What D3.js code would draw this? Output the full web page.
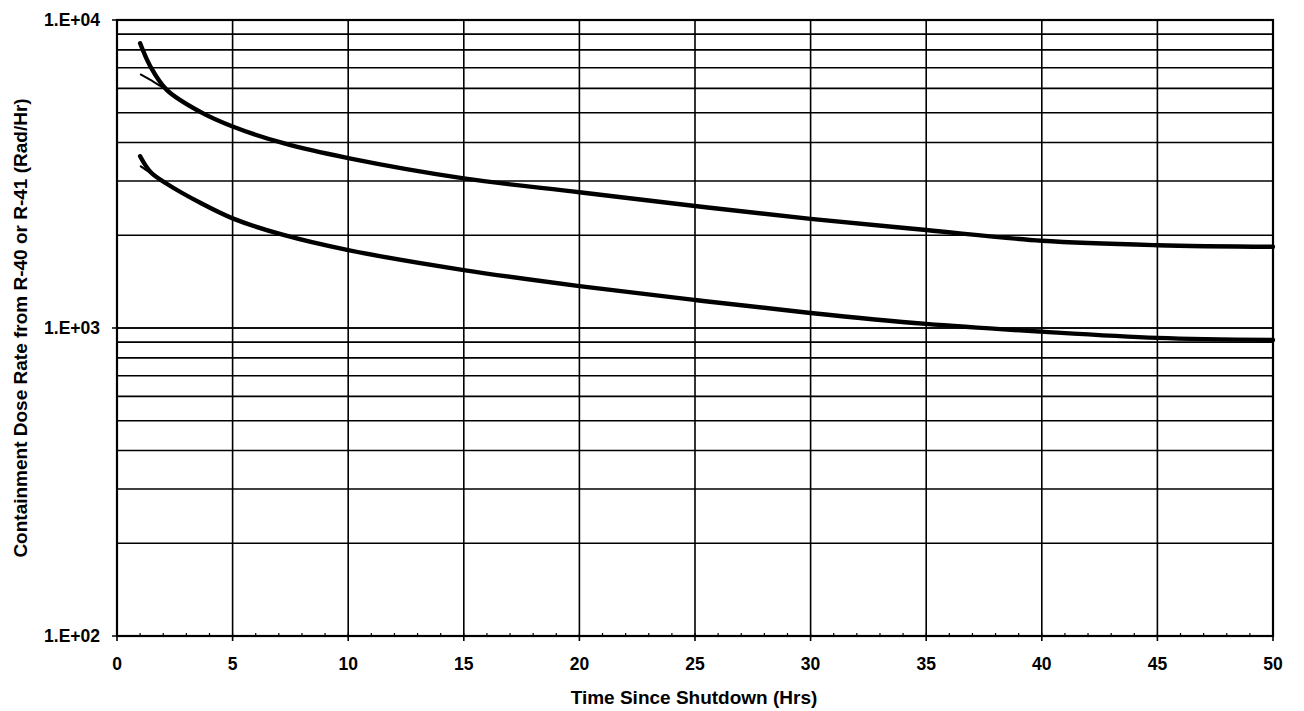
<!DOCTYPE html>
<html lang="en">
<head>
    <meta charset="UTF-8">
    <title>Containment Dose Rate</title>
    <script src="https://d3js.org/d3.v7.min.js"></script>
    <style>
        body { margin: 0; background: white; }
        svg { display: block; }
        text { font-family: 'Liberation Sans', Arial, sans-serif; font-weight: bold; fill: black; }
        .tick-label { font-size: 17.5px; }
        .axis-title { font-size: 19px; }
    </style>
</head>
<body>
<svg width="1304" height="711"></svg>
<script>
    // Data (time in hrs, dose rate in Rad/Hr)
    const hours = [1, 1.45, 2.15, 3.6, 5, 7.2, 10, 15, 20, 25, 30, 35, 40, 45, 50];
    const upperCurve = [8400, 7050, 5930, 5030, 4510, 3980, 3560, 3060, 2760, 2490, 2260, 2080, 1920, 1857, 1836];
    const lowerCurve = [3610, 3210, 2940, 2550, 2270, 2005, 1790, 1542, 1368, 1233, 1119, 1031, 973, 929, 915];

    // short thin branches at the start of each curve
    const upperBranchHours = [1, 1.6, 2.15];
    const upperBranch = [6670, 6290, 5930];
    const lowerBranchHours = [1, 1.45, 1.87];
    const lowerBranch = [3360, 3185, 3030];

    const xTicks = [0, 5, 10, 15, 20, 25, 30, 35, 40, 45, 50];
    const yTicks = [100, 1000, 10000];
    const yTickLabels = ["1.E+02", "1.E+03", "1.E+04"];

    const svg = d3.select("svg");
    const mLeft = 117, mRight = 1273, mTop = 20, mBottom = 636;

    const x = d3.scaleLinear().domain([0, 50]).range([mLeft, mRight]);
    const y = d3.scaleLog().domain([100, 10000]).range([mBottom, mTop]);

    // minor horizontal gridlines 2..9 per decade plus decades
    const yGrid = [];
    [100, 1000].forEach(d => { for (let k = 1; k <= 10; k++) yGrid.push(d * k); });

    svg.append("g").selectAll("line")
        .data(yGrid)
        .enter().append("line")
        .attr("x1", mLeft).attr("x2", mRight)
        .attr("y1", d => y(d)).attr("y2", d => y(d))
        .attr("stroke", "black").attr("stroke-width", 1.6);

    svg.append("g").selectAll("line")
        .data(xTicks)
        .enter().append("line")
        .attr("x1", d => x(d)).attr("x2", d => x(d))
        .attr("y1", mTop).attr("y2", mBottom + 5)
        .attr("stroke", "black").attr("stroke-width", 1.6);

    // minor x ticks along the bottom axis
    svg.append("g").selectAll("line")
        .data(d3.range(0, 51))
        .enter().append("line")
        .attr("x1", d => x(d)).attr("x2", d => x(d))
        .attr("y1", mBottom - 3).attr("y2", mBottom)
        .attr("stroke", "black").attr("stroke-width", 1.2);

    // y major ticks
    svg.append("g").selectAll("line")
        .data(yTicks)
        .enter().append("line")
        .attr("x1", mLeft - 5).attr("x2", mLeft)
        .attr("y1", d => y(d)).attr("y2", d => y(d))
        .attr("stroke", "black").attr("stroke-width", 1.5);

    // frame
    svg.append("rect")
        .attr("x", mLeft).attr("y", mTop)
        .attr("width", mRight - mLeft).attr("height", mBottom - mTop)
        .attr("fill", "none").attr("stroke", "black").attr("stroke-width", 2.2);

    // tick labels
    svg.append("g").selectAll("text")
        .data(xTicks)
        .enter().append("text")
        .attr("class", "tick-label")
        .attr("x", d => x(d)).attr("y", 670)
        .attr("text-anchor", "middle")
        .text(d => d);

    svg.append("g").selectAll("text")
        .data(yTicks)
        .enter().append("text")
        .attr("class", "tick-label")
        .attr("x", 100).attr("y", d => y(d) + 6)
        .attr("text-anchor", "end")
        .text((d, i) => yTickLabels[i]);

    // curves
    const line = d3.line()
        .x(d => x(d[0])).y(d => y(d[1]))
        .curve(d3.curveCatmullRom.alpha(0.5));

    svg.append("path")
        .datum(upperBranchHours.map((h, i) => [h, upperBranch[i]]))
        .attr("d", line).attr("fill", "none")
        .attr("stroke", "black").attr("stroke-width", 2);
    svg.append("path")
        .datum(lowerBranchHours.map((h, i) => [h, lowerBranch[i]]))
        .attr("d", line).attr("fill", "none")
        .attr("stroke", "black").attr("stroke-width", 2);

    [upperCurve, lowerCurve].forEach(vals => {
        svg.append("path")
            .datum(hours.map((h, i) => [h, vals[i]]))
            .attr("d", line).attr("fill", "none")
            .attr("stroke", "black").attr("stroke-width", 4.4)
            .attr("stroke-linecap", "round");
    });

    // axis titles
    svg.append("text")
        .attr("class", "axis-title")
        .attr("x", 694).attr("y", 704)
        .attr("text-anchor", "middle")
        .text("Time Since Shutdown (Hrs)");

    svg.append("text")
        .attr("class", "axis-title")
        .attr("transform", "translate(27," + ((mTop + mBottom) / 2) + ") rotate(-90)")
        .attr("text-anchor", "middle")
        .text("Containment Dose Rate from R-40 or R-41 (Rad/Hr)");
</script>
</body>
</html>
